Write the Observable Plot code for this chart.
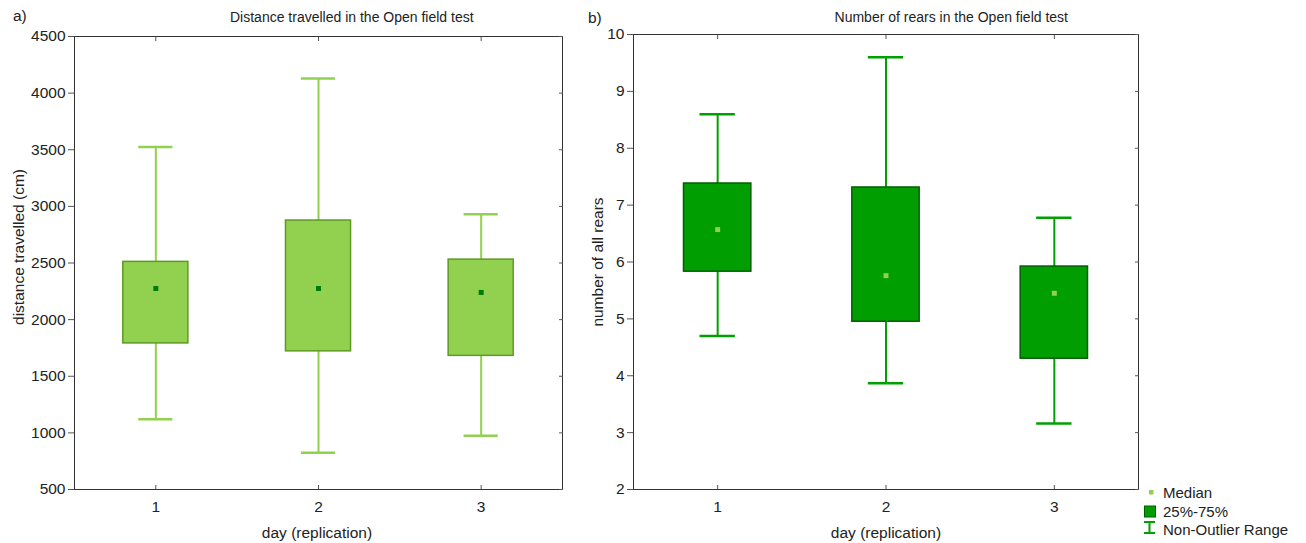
<!DOCTYPE html>
<html>
<head>
<meta charset="utf-8">
<script src="https://cdn.jsdelivr.net/npm/d3@7"></script>
<script src="https://cdn.jsdelivr.net/npm/@observablehq/plot@0.6"></script>
<style>
  html, body { margin: 0; padding: 0; background: #fff; }
  #wrap { position: relative; width: 1306px; height: 543px; font-family: "Liberation Sans", Arial, sans-serif; color: #222; overflow: hidden; }
  .abs { position: absolute; white-space: nowrap; line-height: 1; }
  .panel { position: absolute; top: 0; }
</style>
</head>
<body>
<div id="wrap"></div>
<script>
// ---- data ----
const days = [1, 2, 3];
const dayTicks = [1, 2, 3];

const distMin    = [1120, 825, 975];
const distQ1     = [1790, 1720, 1680];
const distMedian = [2275, 2275, 2240];
const distQ3     = [2510, 2875, 2530];
const distMax    = [3525, 4130, 2930];
const distTicks  = [500, 1000, 1500, 2000, 2500, 3000, 3500, 4000, 4500];

const rearsMin    = [4.7, 3.87, 3.16];
const rearsQ1     = [5.83, 4.95, 4.3];
const rearsMedian = [6.57, 5.76, 5.45];
const rearsQ3     = [7.38, 7.31, 5.92];
const rearsMax    = [8.6, 9.6, 6.78];
const rearsTicks  = [2, 3, 4, 5, 6, 7, 8, 9, 10];

const legendLabels = ["Median", "25%-75%", "Non-Outlier Range"];

function rows(mn, q1, med, q3, mx) {
  return days.map((d, i) => ({day: d, min: mn[i], q1: q1[i], median: med[i], q3: q3[i], max: mx[i]}));
}

function panel({data, ticks, width, height, ml, mr, mt, mb, boxFill, boxStroke, whisker, median}) {
  const hw = 0.2, cw = 0.105;
  const tf = () => "";
  const nf = d => String(d);
  return Plot.plot({
    width, height,
    marginLeft: ml, marginRight: mr, marginTop: mt, marginBottom: mb,
    style: {fontFamily: '"Liberation Sans", Arial, sans-serif', fontSize: "15.5px", color: "#222", background: "#fff", overflow: "visible"},
    x: {domain: [0.5, 3.5]},
    y: {domain: [ticks[0], ticks[ticks.length - 1]]},
    marks: [
      Plot.ruleX(data, {x: "day", y1: "min", y2: "max", stroke: whisker, strokeWidth: 2}),
      Plot.ruleY(data, {y: "max", x1: d => d.day - cw, x2: d => d.day + cw, stroke: whisker, strokeWidth: 2.5}),
      Plot.ruleY(data, {y: "min", x1: d => d.day - cw, x2: d => d.day + cw, stroke: whisker, strokeWidth: 2.5}),
      Plot.rect(data, {x1: d => d.day - hw, x2: d => d.day + hw, y1: "q1", y2: "q3", fill: boxFill, stroke: boxStroke, strokeWidth: 1.5}),
      Plot.dot(data, {x: "day", y: "median", symbol: "square", r: 2.8, fill: median, stroke: "none"}),
      Plot.frame({stroke: "#333", strokeWidth: 1}),
      Plot.axisY(ticks, {anchor: "left", tickSize: 6, tickPadding: 3, tickFormat: nf, fontSize: 15.5, label: null, stroke: "#555"}),
      Plot.axisY(ticks, {anchor: "right", tickSize: 4, dx: -4, tickFormat: tf, label: null, stroke: "#555"}),
      Plot.axisX(dayTicks, {anchor: "bottom", tickSize: 0, tickPadding: 11, tickFormat: nf, fontSize: 15.5, label: null}),
      Plot.axisX(dayTicks, {anchor: "bottom", tickSize: 4, dy: -4, tickFormat: tf, label: null, stroke: "#555"}),
      Plot.axisX(dayTicks, {anchor: "top", tickSize: 4, dy: 4, tickFormat: tf, label: null, stroke: "#555"})
    ]
  });
}

const wrap = document.getElementById("wrap");

const left = panel({
  data: rows(distMin, distQ1, distMedian, distQ3, distMax), ticks: distTicks,
  width: 600, height: 543, ml: 74, mr: 38, mt: 36, mb: 54,
  boxFill: "#92d050", boxStroke: "#5e9a22", whisker: "#92d050", median: "#007a00"
});
left.classList.add("panel"); left.style.left = "0px";
wrap.appendChild(left);

const right = panel({
  data: rows(rearsMin, rearsQ1, rearsMedian, rearsQ3, rearsMax), ticks: rearsTicks,
  width: 706, height: 543, ml: 33, mr: 168, mt: 34, mb: 54,
  boxFill: "#009e00", boxStroke: "#005f00", whisker: "#00a000", median: "#92d050"
});
right.classList.add("panel"); right.style.left = "600px";
wrap.appendChild(right);

function addText(txt, css) {
  const el = document.createElement("div");
  el.className = "abs";
  el.textContent = txt;
  Object.assign(el.style, css);
  wrap.appendChild(el);
  return el;
}

addText("a)", {left: "13px", top: "8px", fontSize: "15.5px"});
addText("b)", {left: "588px", top: "10px", fontSize: "15.5px"});
addText("Distance travelled in the Open field test", {left: "230px", top: "10px", fontSize: "14px"});
addText("Number of rears in the Open field test", {right: (1306 - 1068) + "px", top: "10px", fontSize: "14px"});
addText("day (replication)", {left: "317px", top: "525px", fontSize: "15.5px", transform: "translateX(-50%)"});
addText("day (replication)", {left: "886px", top: "525px", fontSize: "15.5px", transform: "translateX(-50%)"});
addText("distance travelled (cm)", {left: "19px", top: "247px", fontSize: "15.5px", transform: "translate(-50%,-50%) rotate(-90deg)"});
addText("number of all rears", {left: "598px", top: "262px", fontSize: "15.5px", transform: "translate(-50%,-50%) rotate(-90deg)"});

// legend
const ns = "http://www.w3.org/2000/svg";
const lg = document.createElementNS(ns, "svg");
lg.setAttribute("width", 166); lg.setAttribute("height", 60);
lg.style.position = "absolute"; lg.style.left = "1140px"; lg.style.top = "483px";
lg.innerHTML = `
  <rect x="9" y="7" width="4.5" height="4.5" fill="#92d050"/>
  <rect x="4.5" y="23" width="11" height="11" fill="#009e00" stroke="#005f00" stroke-width="1"/>
  <g stroke="#00a000" stroke-width="2" fill="none">
    <line x1="4" y1="39" x2="15" y2="39"/>
    <line x1="9.5" y1="39" x2="9.5" y2="50"/>
    <line x1="4" y1="50" x2="15" y2="50"/>
  </g>
  <g font-family='"Liberation Sans", Arial, sans-serif' font-size="15" fill="#222">
    <text x="23" y="15">${legendLabels[0]}</text>
    <text x="23" y="34">${legendLabels[1]}</text>
    <text x="23" y="52">${legendLabels[2]}</text>
  </g>`;
wrap.appendChild(lg);
</script>
</body>
</html>
